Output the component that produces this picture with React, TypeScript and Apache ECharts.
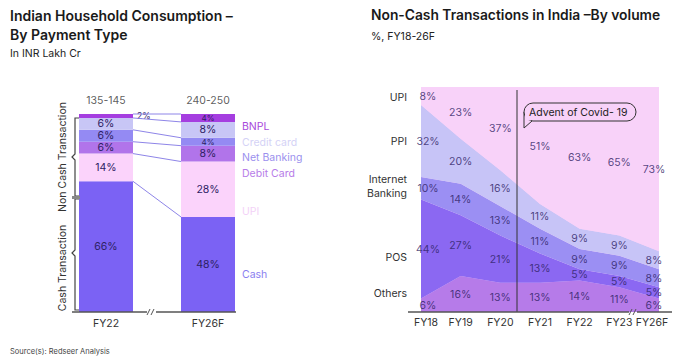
import React, { useEffect, useRef } from "react";
import * as echarts from "echarts";

// ---- Left chart: Indian Household Consumption by payment type (%)
const payYears = ["FY22", "FY26F"];
const payTotals = ["135-145", "240-250"];
const payCash = [66, 48];
const payUpi = [14, 28];
const payDebit = [6, 8];
const payNetBanking = [6, 4];
const payCredit = [6, 8];
const payBnpl = [2, 4];

// ---- Right chart: Non-cash transactions by volume (%)
const txYears = ["FY18", "FY19", "FY20", "FY21", "FY22", "FY23", "FY26F"];
const txOthers = [6, 16, 13, 13, 14, 11, 6];
const txPos = [44, 27, 21, 13, 5, 5, 5];
const txInternetBanking = [10, 14, 13, 11, 9, 9, 8];
const txPpi = [32, 20, 16, 11, 9, 9, 8];
const txUpi = [8, 23, 37, 51, 63, 65, 73];

const FONT = "Inter, 'Noto Sans', sans-serif";
const LABEL_DARK = "#2d2163";

const payLayers = [
  { name: "Cash", data: payCash, color: "#7b62f4", text: "#8a7ef0" },
  { name: "UPI", data: payUpi, color: "#fbd3fb", text: "#f3d2f7" },
  { name: "Debit Card", data: payDebit, color: "#b174ea", text: "#b77ce8" },
  { name: "Net Banking", data: payNetBanking, color: "#948af3", text: "#9b90ee" },
  { name: "Credit card", data: payCredit, color: "#c8c6f6", text: "#d4d2f6" },
  { name: "BNPL", data: payBnpl, color: "#a53ee0", text: "#a848dc" },
];

const txLayers = [
  { name: "Others", data: txOthers, color: "#b67be9" },
  { name: "POS", data: txPos, color: "#8b68f2" },
  { name: "Internet Banking", data: txInternetBanking, color: "#9b8ff3" },
  { name: "PPI", data: txPpi, color: "#c7c4f7" },
  { name: "UPI", data: txUpi, color: "#f8d2f9" },
];

export default function App() {
  const ref = useRef<HTMLDivElement>(null);

  useEffect(() => {
    if (!ref.current) return;
    const chart = echarts.init(ref.current, undefined, { renderer: "svg" });

    const BAR_W = 54;

    // Left stacked bars; labels shrink (or move beside) where a segment is thin
    const barSeries: any[] = payLayers.map((l) => ({
      type: "bar",
      name: l.name,
      xAxisIndex: 0,
      yAxisIndex: 0,
      stack: "pay",
      barWidth: BAR_W,
      data: l.data.map((v) => {
        if (v >= 6) return { value: v, label: { fontSize: 10.5 } };
        if (v >= 4) return { value: v, label: { fontSize: 8 } };
        return { value: v, label: { position: "right", distance: 4, fontSize: 8.5 } };
      }),
      itemStyle: { color: l.color },
      label: {
        show: true,
        position: "inside",
        formatter: "{c}%",
        color: LABEL_DARK,
        fontFamily: FONT,
        fontSize: 10.5,
      },
    }));

    // Connector lines between stack boundaries
    const boundaries: number[][] = [];
    let c0 = 0;
    let c1 = 0;
    payLayers.forEach((l) => {
      c0 += l.data[0];
      c1 += l.data[1];
      boundaries.push([0, c0, c1]);
    });
    const connectorSeries = {
      type: "custom",
      xAxisIndex: 0,
      yAxisIndex: 0,
      data: boundaries,
      encode: { x: 0, y: 1 },
      z: 5,
      renderItem: (params: any, api: any) => {
        const a = api.coord([0, api.value(1)]);
        const b = api.coord([1, api.value(2)]);
        return {
          type: "line",
          shape: { x1: a[0] + BAR_W / 2, y1: a[1], x2: b[0] - BAR_W / 2, y2: b[1] },
          style: { stroke: "#8e85e8", lineWidth: 1 },
        };
      },
    };

    // Totals above bars
    const totalsSeries = {
      type: "scatter",
      xAxisIndex: 0,
      yAxisIndex: 0,
      symbolSize: 0,
      data: payYears.map((_, i) => [i, 100]),
      label: {
        show: true,
        position: "top",
        distance: 8,
        formatter: (p: any) => payTotals[p.dataIndex],
        color: "#333",
        fontFamily: FONT,
        fontSize: 10.5,
      },
    };

    // Right stacked areas
    const areaSeries: any[] = txLayers.map((l) => ({
      type: "line",
      name: l.name,
      xAxisIndex: 1,
      yAxisIndex: 1,
      stack: "tx",
      symbol: "none",
      lineStyle: { width: 0 },
      areaStyle: { color: l.color, opacity: 1 },
      data: l.data,
    }));

    // Labels in the middle of each band
    const below = txYears.map(() => 0);
    const areaLabelSeries: any[] = txLayers.map((l) => {
      const pts = l.data.map((v, i) => {
        const mid = below[i] + v / 2;
        below[i] += v;
        const off = i === 0 ? [7, 0] : i === txYears.length - 1 ? [-5, 0] : [0, 0];
        return { value: [i, mid, v], label: { offset: off } };
      });
      return {
        type: "scatter",
        xAxisIndex: 1,
        yAxisIndex: 1,
        symbolSize: 0,
        z: 10,
        data: pts,
        label: {
          show: true,
          position: "inside",
          formatter: (p: any) => p.value[2] + "%",
          color: LABEL_DARK,
          fontFamily: FONT,
          fontSize: 10.5,
        },
      };
    });

    const txt = (text: string, x: number, y: number, size: number, opts: any = {}) => ({
      type: "text",
      x,
      y,
      rotation: opts.rotation || 0,
      z: opts.z || 100,
      style: {
        text,
        font: `${opts.weight || "normal"} ${size}px ${FONT}`,
        fill: opts.fill || "#222",
        textAlign: opts.align || "left",
        textVerticalAlign: "middle",
        lineHeight: opts.lineHeight,
      },
    });

    const line = (x1: number, y1: number, x2: number, y2: number, stroke = "#555", lw = 1.5) => ({
      type: "line",
      z: 100,
      shape: { x1, y1, x2, y2 },
      style: { stroke, lineWidth: lw },
    });

    const legendY = [274, 211, 173, 157, 142, 126];

    const graphics: any[] = [
      txt("Indian Household Consumption \u2013", 10, 15, 14, { weight: 600, fill: "#1a1a1a" }),
      txt("By Payment Type", 10, 34, 14, { weight: 600, fill: "#1a1a1a" }),
      txt("In INR Lakh Cr", 10, 53, 10.5, { fill: "#222" }),
      txt("Non-Cash Transactions in India \u2013By volume", 371, 15, 13.8, { weight: 600, fill: "#1a1a1a" }),
      txt("%, FY18-26F", 371, 36, 10.5, { fill: "#222" }),
      txt("Source(s): Redseer Analysis", 10, 351, 7.5, { fill: "#444" }),
      // left legend labels
      ...payLayers.map((l, i) => txt(l.name, 242, legendY[i], 10.5, { fill: l.text })),
      // brace texts
      txt("Non Cash Transaction", 62, 157, 10.5, { rotation: Math.PI / 2, align: "center", fill: "#333" }),
      txt("Cash Transaction", 62, 268, 10.5, { rotation: Math.PI / 2, align: "center", fill: "#333" }),
      // braces
      {
        type: "polyline",
        z: 100,
        shape: { points: [[79, 118], [75, 118], [75, 154], [72, 157], [75, 160], [75, 196], [79, 196]] },
        style: { stroke: "#444", lineWidth: 1.2, fill: "none" },
      },
      {
        type: "polyline",
        z: 100,
        shape: { points: [[79, 199], [75, 199], [75, 250], [72, 253], [75, 256], [75, 310], [79, 310]] },
        style: { stroke: "#444", lineWidth: 1.2, fill: "none" },
      },
      line(72, 197.5, 80, 197.5, "#888", 3),
      // left axis line with break
      line(72, 312, 147, 312),
      line(156, 312, 236, 312),
      line(147, 315, 150, 309, "#555", 1),
      line(151, 315, 154, 309, "#555", 1),
      // right chart labels
      txt("UPI", 407, 97, 10.5, { align: "right", fill: "#333" }),
      txt("PPI", 407, 141, 10.5, { align: "right", fill: "#333" }),
      txt("Internet\nBanking", 407, 186, 10.5, { align: "right", fill: "#333", lineHeight: 14 }),
      txt("POS", 407, 257, 10.5, { align: "right", fill: "#333" }),
      txt("Others", 407, 293, 10.5, { align: "right", fill: "#333" }),
      // covid line
      line(517, 90, 517, 312, "#333", 1),
      // covid callout
      {
        type: "polygon",
        z: 100,
        shape: { points: [[524, 112], [524, 128], [532, 121]] },
        style: { fill: "#f8d2f9", stroke: "#333", lineWidth: 1 },
      },
      {
        type: "rect",
        z: 101,
        shape: { x: 524, y: 103, width: 112, height: 18, r: 9 },
        style: { fill: "#f8d2f9", stroke: "#333", lineWidth: 1 },
      },
      {
        type: "rect",
        z: 102,
        shape: { x: 525, y: 112, width: 6, height: 8.5 },
        style: { fill: "#f8d2f9" },
      },
      txt("Advent of Covid- 19", 529, 112, 10.5, { fill: "#222", z: 103 }),
      // right axis line with break
      line(408, 312, 629, 312),
      line(637, 312, 672, 312),
      line(629, 315, 632, 309, "#555", 1),
      line(633, 315, 636, 309, "#555", 1),
    ];

    chart.setOption({
      animation: false,
      backgroundColor: "#ffffff",
      textStyle: { fontFamily: FONT },
      grid: [
        { left: 55, width: 204, top: 114, height: 198 },
        {
          left: 421,
          right: 14,
          top: 87,
          height: 225,
          show: true,
          backgroundColor: "#f8d2f9",
          borderWidth: 0,
        },
      ],
      xAxis: [
        {
          type: "category",
          gridIndex: 0,
          data: payYears,
          axisLine: { show: false },
          axisTick: { show: false },
          axisLabel: { color: "#333", fontSize: 10.5, margin: 6, fontFamily: FONT },
        },
        {
          type: "category",
          gridIndex: 1,
          data: txYears,
          boundaryGap: false,
          axisLine: { show: false },
          axisTick: { show: false },
          axisLabel: {
            interval: 0,
            color: "#333",
            fontSize: 10.5,
            margin: 5,
            fontFamily: FONT,
            formatter: (v: string, i: number) =>
              i === 0 ? `{first|${v}}` : i === txYears.length - 1 ? `{last|${v}}` : v,
            rich: {
              first: { padding: [0, 0, 0, 10], color: "#333", fontSize: 10.5, fontFamily: FONT },
              last: { padding: [0, 14, 0, 0], color: "#333", fontSize: 10.5, fontFamily: FONT },
            },
          },
        },
      ],
      yAxis: [
        { type: "value", gridIndex: 0, min: 0, max: 100, show: false },
        { type: "value", gridIndex: 1, min: 0, max: 100, show: false },
      ],
      series: [...barSeries, connectorSeries, totalsSeries, ...areaSeries, ...areaLabelSeries],
      graphic: graphics,
    });

    return () => chart.dispose();
  }, []);

  return (
    <div
      ref={ref}
      style={{ position: "fixed", left: 0, top: 0, width: 673, height: 360, background: "#fff" }}
    />
  );
}
